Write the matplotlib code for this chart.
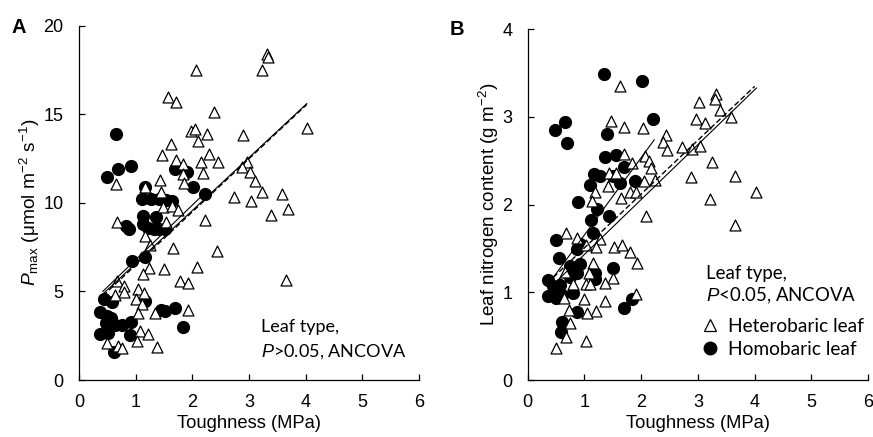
import matplotlib
matplotlib.use("Agg")
import matplotlib.pyplot as plt
from matplotlib.lines import Line2D

plt.rcParams["font.family"] = ["Liberation Sans", "DejaVu Sans"]
plt.rcParams["mathtext.fontset"] = "custom"
plt.rcParams["mathtext.rm"] = "Liberation Sans"
plt.rcParams["mathtext.it"] = "Liberation Sans:italic"

# ---------------- Panel A: Pmax vs toughness ----------------
a_het_x = [3.32, 3.33, 3.23, 2.07, 1.57, 1.72, 2.38, 4.02, 1.98, 2.05, 2.25, 2.89,
           1.62, 2.10, 1.47, 2.29, 2.46, 1.72, 2.15, 1.84, 2.18, 2.96, 2.88, 3.02,
           3.11, 1.83, 1.86, 0.65, 1.43, 1.17, 1.44, 2.73, 3.23, 3.58, 3.03, 3.68,
           3.39, 1.48, 1.64, 1.75, 2.22, 0.67, 1.53, 1.17, 1.26, 1.65, 2.43, 2.08,
           1.24, 1.50, 1.13, 0.67, 1.78, 1.92, 3.66, 0.79, 0.79, 0.63, 1.04, 1.14,
           1.00, 1.11, 1.04, 1.34, 1.92, 1.07, 1.21, 0.50, 0.69, 0.76, 1.03, 1.37]
a_het_y = [18.4, 18.25, 17.5, 17.5, 15.96, 15.7, 15.1, 14.2, 14.06, 14.15, 13.9, 13.8,
           13.3, 13.5, 12.7, 12.74, 12.3, 12.4, 12.3, 12.2, 11.7, 12.3, 12.0, 11.75,
           11.24, 11.6, 11.1, 11.07, 11.3, 10.9, 10.6, 10.3, 10.6, 10.5, 10.1, 9.64,
           9.29, 9.76, 9.8, 9.57, 9.04, 8.9, 8.9, 8.1, 7.63, 7.44, 7.26, 6.4,
           6.3, 6.26, 6.0, 5.6, 5.6, 5.5, 5.66, 5.28, 4.94, 4.77, 5.13, 4.9,
           4.6, 4.3, 3.78, 3.8, 3.97, 2.78, 2.6, 2.09, 1.9, 1.8, 2.18, 1.86]

a_hom_x = [0.65, 0.49, 0.69, 0.92, 1.69, 1.91, 2.01, 2.22, 1.17, 1.11, 1.27, 1.42,
           1.54, 1.64, 1.13, 1.35, 1.13, 0.83, 0.89, 1.21, 1.32, 1.41, 1.52, 0.93,
           1.17, 0.44, 0.58, 1.17, 0.37, 0.50, 0.57, 0.48, 0.63, 0.75, 0.91, 0.37,
           0.52, 0.90, 0.62, 1.45, 1.51, 1.69, 1.84]
a_hom_y = [13.9, 11.47, 11.9, 12.1, 11.9, 11.75, 10.9, 10.5, 10.9, 10.2, 10.2, 10.2,
           10.17, 10.1, 9.23, 9.2, 8.8, 8.67, 8.5, 8.6, 8.5, 8.5, 8.5, 6.73,
           6.97, 4.57, 4.4, 4.44, 3.85, 3.63, 3.5, 3.2, 3.1, 3.1, 3.25, 2.6,
           2.65, 2.55, 1.56, 3.97, 3.9, 4.06, 3.0]

# fitted lines: [x0, x1], [y0, y1]
a_fit_hom = ([0.42, 2.22], [5.0, 10.55])
a_fit_het = ([0.42, 4.02], [4.85, 15.6])
a_fit_all = ([0.42, 4.02], [4.75, 15.55])

# ---------------- Panel B: leaf N vs toughness ----------------
b_het_x = [1.62, 3.31, 3.30, 3.02, 3.39, 3.58, 2.96, 3.12, 1.47, 1.69, 2.04, 2.43,
           2.38, 2.46, 2.71, 2.90, 3.04, 1.70, 2.07, 2.14, 3.24, 2.17, 1.83, 1.43,
           1.56, 2.87, 3.66, 4.02, 1.42, 2.05, 2.24, 1.80, 1.64, 1.91, 1.19, 1.13,
           3.22, 2.08, 3.66, 0.67, 0.87, 1.03, 1.27, 1.21, 1.52, 1.67, 1.80, 1.92,
           1.15, 0.65, 1.08, 1.50, 1.36, 1.03, 1.09, 0.80, 1.91, 0.64, 1.00, 1.36,
           0.73, 1.20, 1.05, 0.75, 0.68, 1.02, 0.49]
b_het_y = [3.35, 3.26, 3.21, 3.17, 3.08, 3.00, 2.98, 2.93, 2.95, 2.89, 2.88, 2.80,
           2.72, 2.62, 2.66, 2.63, 2.67, 2.58, 2.55, 2.50, 2.49, 2.42, 2.47, 2.36,
           2.36, 2.31, 2.33, 2.14, 2.21, 2.27, 2.28, 2.14, 2.08, 2.15, 2.15, 2.04,
           2.06, 1.87, 1.77, 1.68, 1.62, 1.54, 1.61, 1.52, 1.52, 1.54, 1.46, 1.33,
           1.33, 1.23, 1.22, 1.16, 1.11, 1.10, 1.10, 1.10, 0.98, 0.93, 0.92, 0.90,
           0.80, 0.79, 0.76, 0.65, 0.49, 0.44, 0.36]

b_hom_x = [1.34, 2.01, 0.48, 0.65, 0.69, 2.21, 1.39, 1.36, 1.56, 1.69, 1.17, 1.27,
           1.50, 1.62, 1.89, 1.09, 1.22, 0.89, 1.12, 1.43, 1.15, 0.49, 0.92, 0.86,
           0.55, 0.92, 0.74, 0.87, 1.19, 0.74, 1.19, 1.50, 0.36, 0.45, 0.56, 0.36,
           0.50, 0.60, 0.79, 0.87, 1.84, 1.70, 0.61, 0.59]
b_hom_y = [3.49, 3.41, 2.85, 2.94, 2.70, 2.98, 2.81, 2.54, 2.57, 2.43, 2.35, 2.33,
           2.33, 2.25, 2.27, 2.23, 1.95, 2.03, 1.83, 1.87, 1.68, 1.60, 1.55, 1.49,
           1.39, 1.32, 1.30, 1.22, 1.22, 1.18, 1.15, 1.28, 1.14, 1.07, 1.08, 0.96,
           0.93, 0.97, 0.99, 0.78, 0.92, 0.82, 0.66, 0.55]

b_fit_hom = ([0.45, 2.23], [1.17, 2.74])
b_fit_het = ([0.50, 4.03], [1.12, 3.33])
b_fit_all = ([0.45, 4.00], [1.17, 3.35])

ANNOT_FONT = ["Lato", "DejaVu Sans"]
TICK_SIZE = 13
LABEL_SIZE = 13.2


def style_axes(ax, ymax, ystep):
    ax.set_xlim(0, 6)
    ax.set_ylim(0, ymax)
    ax.set_xticks(range(0, 7))
    ax.set_yticks([i * ystep for i in range(int(ymax / ystep) + 1)])
    for s in ("top", "right"):
        ax.spines[s].set_visible(False)
    for s in ("left", "bottom"):
        ax.spines[s].set_linewidth(0.9)
    ax.tick_params(direction="in", length=4, width=0.9, labelsize=TICK_SIZE)
    ax.tick_params(axis="x", pad=10)
    ax.tick_params(axis="y", pad=11)
    ax.set_xlabel("Toughness (MPa)", fontsize=LABEL_SIZE, labelpad=3)


def draw_panel(ax, het_x, het_y, hom_x, hom_y, fits):
    ax.scatter(het_x, het_y, marker="^", s=62, facecolors="white",
               edgecolors="black", linewidths=0.9, zorder=3)
    ax.scatter(hom_x, hom_y, marker="o", s=72, color="black", zorder=2)
    hom, het, allf = fits
    ax.plot(*hom, color="black", lw=0.8, zorder=4)
    ax.plot(*het, color="black", lw=0.8, zorder=4)
    ax.plot(*allf, color="black", lw=1.0, ls=(0, (4, 2)), zorder=4)


fig = plt.figure(figsize=(8.73, 4.37), dpi=100)
axA = fig.add_axes([0.0905, 0.1304, 0.3895, 0.811])
axB = fig.add_axes([0.6045, 0.1304, 0.390, 0.8025])

draw_panel(axA, a_het_x, a_het_y, a_hom_x, a_hom_y, (a_fit_hom, a_fit_het, a_fit_all))
style_axes(axA, 20, 5)
axA.set_ylabel(r"$P_{\rm max}$ (μmol m$^{-2}$ s$^{-1}$)", fontsize=13.8, labelpad=1)
axA.text(0.535, 0.150, "Leaf type,", transform=axA.transAxes, fontsize=13,
         family=ANNOT_FONT, va="center")
axA.text(0.535, 0.079, r"$\it{P}$>0.05, ANCOVA", transform=axA.transAxes,
         fontsize=13, family=ANNOT_FONT, va="center")

draw_panel(axB, b_het_x, b_het_y, b_hom_x, b_hom_y, (b_fit_hom, b_fit_het, b_fit_all))
style_axes(axB, 4, 1)
axB.set_ylabel(r"Leaf nitrogen content (g m$^{-2}$)", fontsize=13.6, labelpad=1)
axB.text(0.525, 0.305, "Leaf type,", transform=axB.transAxes, fontsize=13.4,
         family=ANNOT_FONT, va="center")
axB.text(0.525, 0.240, r"$\it{P}$<0.05, ANCOVA", transform=axB.transAxes,
         fontsize=13.4, family=ANNOT_FONT, va="center")

handles = [
    Line2D([], [], ls="none", marker="^", ms=8.5, mfc="white", mec="black", mew=0.9,
           label="Heterobaric leaf"),
    Line2D([], [], ls="none", marker="o", ms=9, mfc="black", mec="black",
           label="Homobaric leaf"),
]
leg = axB.legend(handles=handles, loc="center left", bbox_to_anchor=(0.485, 0.12),
                 frameon=False, handlelength=1.0, handletextpad=0.45,
                 labelspacing=0.3, borderaxespad=0,
                 prop={"family": ANNOT_FONT, "size": 13.8})

fig.text(0.013, 0.925, "A", fontsize=14.5, fontweight="bold")
fig.text(0.515, 0.92, "B", fontsize=14.5, fontweight="bold")

fig.savefig("out.png", dpi=100)
